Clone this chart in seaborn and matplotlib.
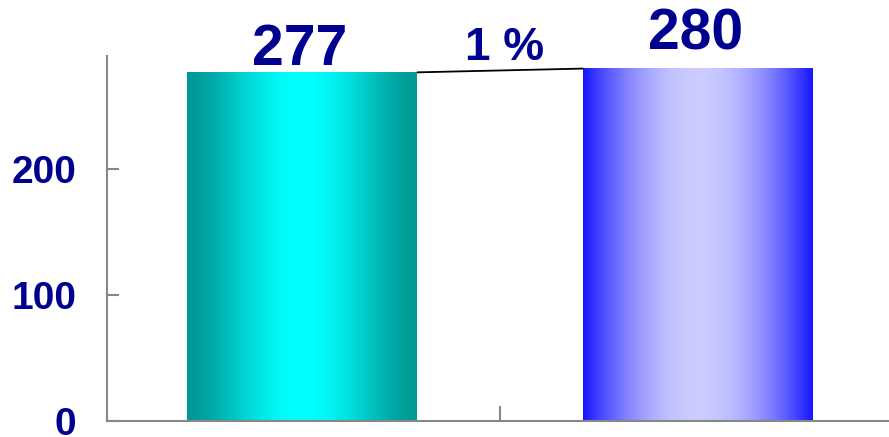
import numpy as np
import pandas as pd
import matplotlib
matplotlib.use('Agg')
import matplotlib.pyplot as plt
import seaborn as sns
from matplotlib.colors import to_rgb

# ---- data ----
categories = ['A', 'B']
values = [277, 280]
yticks = [0, 100, 200]

# ---- style ----
edge_colors = ['#009995', '#1414FF']
center_colors = ['#00FFFF', '#CCCCFF']
gradient_power = [1.6, 0.9]
label_offsets_pt = [5.0, 13.5]
text_color = '#000090'
spine_color = '#888888'

sns.set_style('white')
plt.rcParams['font.family'] = ['Liberation Sans', 'DejaVu Sans']

W, H = 889, 437
fig = plt.figure(figsize=(W / 100, H / 100), dpi=100)
ax = fig.add_axes([107 / W, (H - 420.75) / H, 1 - 107 / W, (420.75 - 56) / H])

df = pd.DataFrame({'cat': categories, 'val': values})
sns.barplot(data=df, x='cat', y='val', ax=ax, width=0.58, color='white',
            saturation=1, linewidth=0, zorder=2)

patches = list(ax.patches)
for p, ec, cc, pw in zip(patches, edge_colors, center_colors, gradient_power):
    x0, y0, w, h = p.get_x(), p.get_y(), p.get_width(), p.get_height()
    t = np.linspace(0, 1, 300)
    f = np.sin(np.pi * t) ** pw
    c = np.outer(1 - f, to_rgb(ec)) + np.outer(f, to_rgb(cc))
    ax.imshow(c[np.newaxis, :, :], extent=[x0, x0 + w, y0, y0 + h],
              aspect='auto', interpolation='bilinear', zorder=2.5)
    p.set_facecolor('none')

# connecting line between bar tops
p1, p2 = patches[0], patches[1]
ax.plot([p1.get_x() + p1.get_width(), p2.get_x()], [values[0], values[1]],
        color='black', lw=1.3, zorder=3, solid_capstyle='butt')

# value labels
for p, v, off in zip(patches, values, label_offsets_pt):
    ax.annotate(str(v), xy=(p.get_x() + p.get_width() / 2, v),
                xytext=(-1.5, off), textcoords='offset points',
                ha='center', va='baseline', fontsize=41, fontweight='bold',
                color=text_color)

pct = round((values[1] - values[0]) / values[0] * 100)
ax.annotate(f'{pct} %', xy=(0.5, (values[0] + values[1]) / 2),
            xytext=(3, 7.5), textcoords='offset points',
            ha='center', va='baseline', fontsize=33, fontweight='bold',
            color=text_color)

ax.set_xlim(-0.4924, 1.482)
ax.set_ylim(0, 290)
ax.set_xlabel('')
ax.set_ylabel('')

for s in ['top', 'right']:
    ax.spines[s].set_visible(False)
for s in ['left', 'bottom']:
    ax.spines[s].set_color(spine_color)
    ax.spines[s].set_linewidth(1.5)

ax.set_yticks(yticks, labels=[str(v) for v in yticks], fontweight='bold')
ax.set_xticks([0.5], labels=[''])
ax.tick_params(axis='y', direction='in', length=8.6, width=1.5, color=spine_color,
               labelsize=28, labelcolor=text_color, pad=22, left=True)
ax.tick_params(axis='x', direction='in', length=11, width=1.5, color=spine_color,
               labelbottom=False, bottom=True)

fig.savefig('out.png', dpi=100)
